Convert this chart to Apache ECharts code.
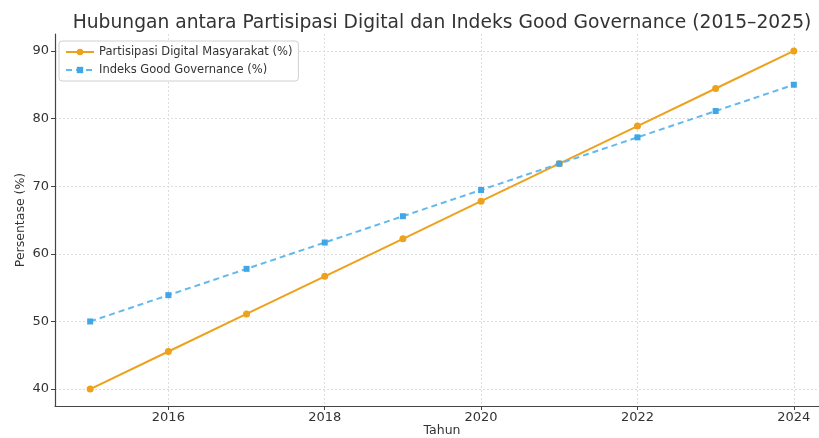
<!DOCTYPE html>
<html>
<head>
<meta charset="utf-8">
<script src="https://cdn.jsdelivr.net/npm/echarts@6/dist/echarts.min.js"></script>
<style>html,body{margin:0;padding:0;background:#fff}#c{width:819px;height:438px}</style>
</head>
<body>
<div id="c"></div>
<script>
const years = [2015, 2016, 2017, 2018, 2019, 2020, 2021, 2022, 2023, 2024];
const partisipasi = [40.0, 45.56, 51.11, 56.67, 62.22, 67.78, 73.33, 78.89, 84.44, 90.0];
const governance = [50.0, 53.89, 57.78, 61.67, 65.56, 69.44, 73.33, 77.22, 81.11, 85.0];
const xTicks = [2016, 2018, 2020, 2022, 2024];
const yTicks = [40, 50, 60, 70, 80, 90];

const font = 'DejaVu Sans';
const chart = echarts.init(document.getElementById('c'), null, {renderer: 'canvas', width: 819, height: 438});
chart.setOption({
  animation: false,
  backgroundColor: '#fff',
  title: {
    text: 'Hubungan antara Partisipasi Digital dan Indeks Good Governance (2015–2025)',
    left: 437, textAlign: 'center', top: 9,
    textStyle: {fontFamily: font, fontSize: 18.7, fontWeight: 'normal', color: '#333'}
  },
  legend: {
    left: 59, top: 41, orient: 'vertical',
    itemWidth: 28, itemHeight: 8, itemGap: 6,
    padding: [5, 6, 5, 6],
    borderColor: '#d0d0d0', borderWidth: 1, borderRadius: 3,
    backgroundColor: '#fff',
    textStyle: {fontFamily: font, fontSize: 11.5, color: '#333'},
    data: ['Partisipasi Digital Masyarakat (%)', 'Indeks Good Governance (%)']
  },
  grid: {left: 55, top: 34, width: 774, height: 372, containLabel: false, outerBoundsMode: 'none'},
  xAxis: {
    type: 'value', min: 2014.55, max: 2024.45,
    name: 'Tahun', nameLocation: 'middle', nameGap: 18, nameMoveOverlap: false,
    nameTextStyle: {fontFamily: font, fontSize: 12.5, color: '#333'},
    axisLine: {show: true, lineStyle: {color: '#444', width: 1.2}},
    axisTick: {show: true, customValues: xTicks, length: 4, lineStyle: {color: '#444'}},
    axisLabel: {customValues: xTicks, fontFamily: font, fontSize: 13, color: '#333', margin: 5,
      formatter: v => String(v)},
    splitLine: {show: true, lineStyle: {color: '#ddd', type: [2, 2], width: 1}}
  },
  yAxis: {
    type: 'value', min: 37.5, max: 92.5,
    name: 'Persentase (%)', nameLocation: 'middle', nameGap: 28, nameMoveOverlap: false,
    nameTextStyle: {fontFamily: font, fontSize: 12.5, color: '#333'},
    axisLine: {show: true, lineStyle: {color: '#444', width: 1.2}},
    axisTick: {show: true, customValues: yTicks, length: 4, lineStyle: {color: '#444'}},
    axisLabel: {customValues: yTicks, fontFamily: font, fontSize: 13, color: '#333', margin: 6},
    splitLine: {show: true, lineStyle: {color: '#ddd', type: [2, 2], width: 1}}
  },
  series: [
    {
      name: 'Partisipasi Digital Masyarakat (%)', type: 'line',
      data: years.map((y, i) => [y, partisipasi[i]]),
      symbol: 'circle', symbolSize: 7,
      lineStyle: {color: '#EEA11C', width: 2},
      itemStyle: {color: '#EEA11C'}
    },
    {
      name: 'Indeks Good Governance (%)', type: 'line',
      data: years.map((y, i) => [y, governance[i]]),
      symbol: 'rect', symbolSize: 6,
      lineStyle: {color: '#62B9EE', width: 2, type: [6, 4]},
      itemStyle: {color: '#3FA6E8'}
    }
  ]
});
</script>
</body>
</html>
